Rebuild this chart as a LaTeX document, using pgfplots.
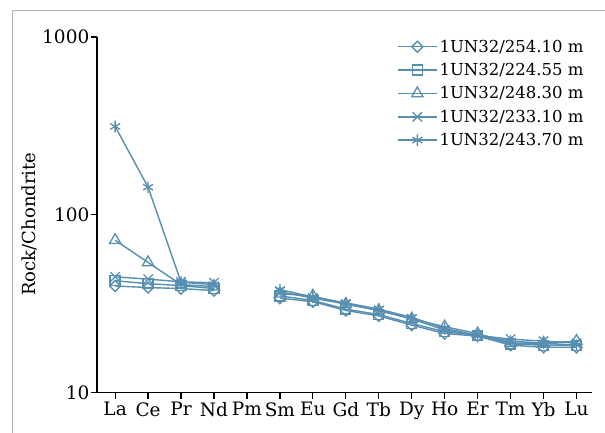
\documentclass[border=0pt]{standalone}
\usepackage{pgfplots}
\pgfplotsset{compat=1.18}
\usepackage{fontspec}
\setmainfont{DejaVu Serif}
\definecolor{sb}{RGB}{87,143,177}
\begin{document}
\begin{tikzpicture}
\begin{axis}[
  scale only axis, width=495pt, height=355.7pt,
  axis lines=left, axis line style={-, line width=1.2pt},
  ymode=log, ymin=10, ymax=1000,
  ytick={10,100,1000}, yticklabels={10,100,1000},
  minor y tick style={draw=none},
  xmin=-0.55, xmax=14.47,
  xtick={0,1,...,14},
  xticklabels={La,Ce,Pr,Nd,Pm,Sm,Eu,Gd,Tb,Dy,Ho,Er,Tm,Yb,Lu},
  tick align=outside, major tick length=6.5pt,
  tick style={black, line width=1.2pt},
  ticklabel style={font=\fontsize{18.5}{20}\selectfont},
  yticklabel style={inner xsep=1pt},
  xticklabel style={inner ysep=3pt},
  /pgf/number format/assume math mode=true,
  ylabel={Rock/Chondrite},
  ylabel style={font=\fontsize{18}{20}\selectfont, at={(axis description cs:-0.1374,0.474)}, anchor=center},
  unbounded coords=jump,
  every axis plot/.append style={color=sb, line width=1.4pt, mark options={solid, fill=none, line width=1.3pt}},
  legend cell align=left,
  legend style={at={(axis description cs:0.606,0.998)}, anchor=north west, draw=none, fill=none, inner sep=0pt,
    font=\fontsize{16.5}{18}\selectfont, row sep=5.6pt,
    nodes={inner sep=2pt}, /tikz/every even column/.append style={column sep=2pt}},
  legend image code/.code={\draw[mark repeat=2,mark phase=2] plot coordinates {(0pt,0pt)(19.5pt,0pt)(39pt,0pt)};},
  clip=false,
]
\coordinate (bl) at (rel axis cs:-0.196,-0.1133);
\coordinate (tr) at (rel axis cs:1.0263,1.104);
\draw[gray!60, line width=1pt] (rel axis cs:-0.1717,-0.1133) -- (rel axis cs:-0.1717,1.0731) -- (rel axis cs:1.0263,1.0731);
% diamond 254.10
\addplot[mark=square, mark options={rotate=45}, mark size=3.9pt] coordinates {
(0,39.8)(1,39)(2,38.5)(3,37.5)(4,nan)(5,34)(6,32.5)(7,29)(8,27)(9,24)(10,21.5)(11,20.8)(12,18.5)(13,18)(14,18)};
\addlegendentry{1UN32/254.10 m}
% square 224.55
\addplot[mark=square, mark size=5pt] coordinates {
(0,42.6)(1,41)(2,40)(3,38.5)(4,nan)(5,35)(6,33)(7,29.5)(8,27.5)(9,24.5)(10,22)(11,21)(12,18.8)(13,18.5)(14,18.5)};
\addlegendentry{1UN32/224.55 m}
% triangle 248.30
\addplot[mark=triangle, mark size=6.5pt] coordinates {
(0,72)(1,54)(2,40.5)(3,39.5)(4,nan)(5,36)(6,35)(7,31.5)(8,29)(9,26)(10,23.5)(11,21.5)(12,19)(13,19)(14,19.5)};
\addlegendentry{1UN32/248.30 m}
% x 233.10
\addplot[mark=x, mark size=6.6pt] coordinates {
(0,44.8)(1,43.5)(2,42)(3,41.5)(4,nan)(5,37)(6,34)(7,31.5)(8,29)(9,26)(10,22.5)(11,21)(12,20)(13,19.5)(14,19)};
\addlegendentry{1UN32/233.10 m}
% asterisk 243.70
\addplot[mark=asterisk, mark size=5.8pt] coordinates {
(0,314)(1,143)(2,41.8)(3,40.5)(4,nan)(5,38)(6,34.5)(7,32)(8,29.5)(9,26.5)(10,23)(11,21)(12,19.5)(13,19)(14,18.5)};
\addlegendentry{1UN32/243.70 m}
\end{axis}
\pgfresetboundingbox
\path[use as bounding box] (bl) rectangle (tr);
\end{tikzpicture}
\end{document}
